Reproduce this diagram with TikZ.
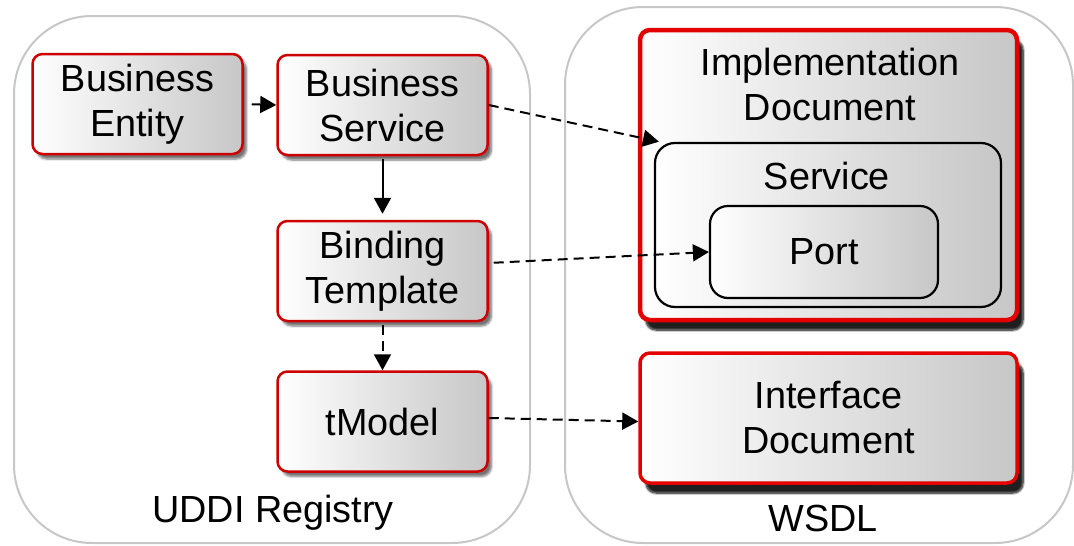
\documentclass[tikz,border=0pt]{standalone}
\usepackage{fontspec}
\setmainfont{Liberation Sans}
\usetikzlibrary{arrows.meta,shadows.blur}

\begin{document}
\begin{tikzpicture}[x=1pt,y=-1pt,
    font=\fontsize{37.8}{45}\selectfont,
    area/.style={draw=black!22,line width=2pt,rounded corners=78pt},
    shade/.style={left color=white,right color=black!22},
    entry/.style={shade,draw=red!80!black,line width=2.5pt,rounded corners=10pt,
      minimum width=210pt,minimum height=100pt,align=center,inner sep=0pt,
      blur shadow={shadow xshift=4pt,shadow yshift=-5pt,shadow blur steps=6,shadow opacity=55}},
    doc/.style={entry,draw=red!90!black,line width=4.5pt,minimum width=377pt,
      blur shadow={shadow xshift=6pt,shadow yshift=-10pt,shadow blur steps=8,shadow opacity=65}},
    part/.style={shade,draw=black,line width=2.2pt,rounded corners=20pt,inner sep=0pt},
    link/.style={-{Triangle[length=16pt,width=17pt]},line width=2pt},
    weak/.style={link,dash pattern=on 10pt off 6pt}]

  \useasboundingbox (0,0) rectangle (1074,546);

  % registry and wsdl areas
  \node[area,minimum width=516pt,minimum height=527pt] (uddi) at (272,279.5) {};
  \node[area,minimum width=508pt,minimum height=536pt] (wsdl) at (819,275) {};
  \node[anchor=base] (uddilabel) at (273,522) {UDDI Registry};
  \node[anchor=base] (wsdllabel) at (823,531) {WSDL};

  % uddi entries
  \begin{scope}[every node/.style={entry}]
    \node (be) at (137.5,104) {Business\\Entity};
    \node (bs) at (382.5,105) {Business\\Service};
    \node (bt) at (382.5,271) {Binding\\Template};
    \node (tm) at (382.5,421.5) {tModel};
  \end{scope}

  % wsdl documents
  \node[doc,minimum height=290pt] (impl) at (828.5,175) {};
  \node[align=center] (impltext) at (830,84) {Implementation\\Document};
  \node[part,minimum width=346pt,minimum height=164pt] (svc) at (828,225) {};
  \node (svctext) at (827,176) {Service};
  \node[part,rounded corners=18pt,minimum width=228pt,minimum height=92pt] (port) at (824,252) {Port};
  \node[doc,minimum height=130pt,line width=3.5pt] (ifc) at (828.5,418) {Interface\\Document};

  % references
  \path[link] (be.east) edge[shorten <=8pt] (bs.west);
  \path[link] (bs.south) edge[shorten <=3pt,shorten >=6pt] (bt.north);
  \path[weak] (bs.east) edge[shorten >=1pt] ([xshift=6pt]svc.north west);
  \path[weak] ([yshift=8pt]bt.east) edge[shorten <=5pt] (port.west);
  \path[weak] (bt.south) edge[shorten <=3pt] (tm.north);
  \path[weak] ([yshift=3.5pt]tm.east) edge (tm.east -| ifc.west);

\end{tikzpicture}
\end{document}
